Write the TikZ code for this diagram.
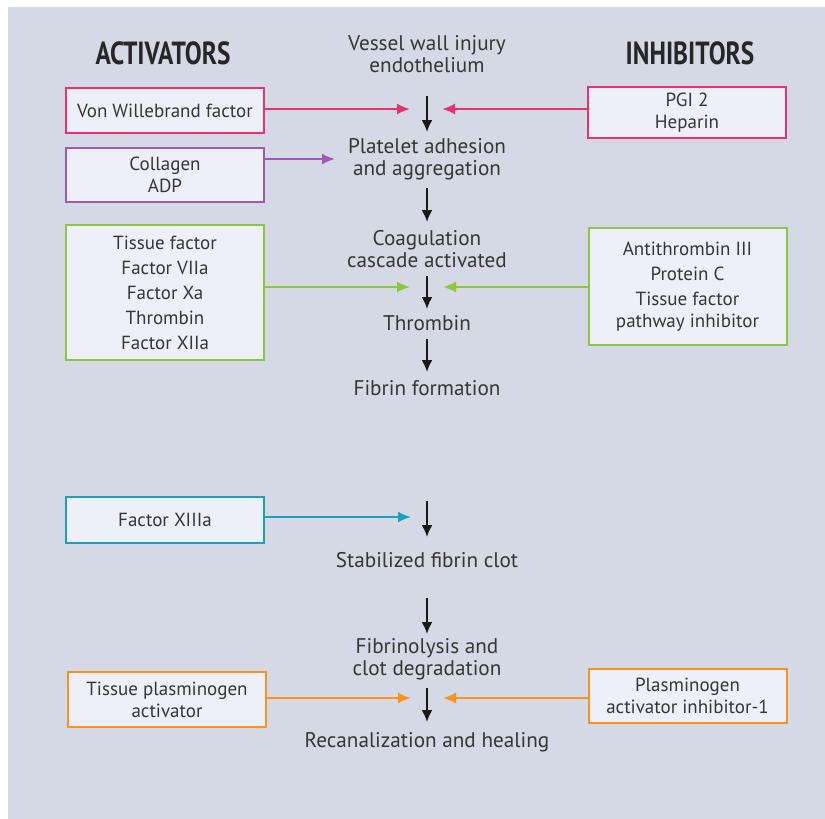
\documentclass[tikz,border=0pt]{standalone}
\usepackage{fontspec}
\setmainfont{PT Sans}
\usetikzlibrary{arrows.meta}

\definecolor{panel}{HTML}{D5D9E5}
\definecolor{boxfill}{HTML}{EDF0F9}
\definecolor{ink}{HTML}{363636}
\definecolor{vwfpink}{HTML}{E6336F}
\definecolor{collpurple}{HTML}{9E5BB0}
\definecolor{cascgreen}{HTML}{8DC63F}
\definecolor{xiiiteal}{HTML}{1EA0BD}
\definecolor{lysisorange}{HTML}{F7941D}

\tikzset{
    factor/.style={draw=#1, line width=1pt, fill=boxfill, rectangle, align=center,
        text=ink, font=\fontsize{9.5}{11}\selectfont, minimum width=99pt, inner sep=2pt},
    stage/.style={align=center, text=ink, font=\fontsize{10.6}{11}\selectfont, inner sep=0pt},
    heading/.style={text=black!85, font=\bfseries\fontsize{16}{18}\selectfont},
    feed/.style={draw=#1, line width=1pt, -{Latex[length=6.5pt, width=5.5pt]}},
    flow/.style={draw=black!90, line width=1pt, -{Latex[length=6pt, width=5.5pt]}}
}

\begin{document}
\begin{tikzpicture}[x=0.5pt, y=-0.5pt]
    \useasboundingbox (0,0) rectangle (825,819);
    \fill[white] (0,0) rectangle (825,819);
    \fill[panel] (8,7) rectangle (825,819);

    % column headings
    \node[heading] (act) at (163,53) {\scalebox{0.79}[1]{ACTIVATORS}};
    \node[heading] (inh) at (690,53) {\scalebox{0.79}[1]{INHIBITORS}};

    % main sequence down the middle
    \node[stage] (injury) at (427,54) {Vessel wall injury\\endothelium};
    \node[stage] (platelet) at (427,159) {Platelet adhesion\\and aggregation};
    \node[stage] (cascade) at (427,249) {Coagulation\\cascade activated};
    \node[stage] (thrombin) at (427,323) {Thrombin};
    \node[stage] (fibrin) at (427,388) {Fibrin formation};
    \node[stage] (stable) at (427,560) {Stabilized fibrin clot};
    \node[stage] (lysis) at (427,659.5) {Fibrinolysis and\\clot degradation};
    \node[stage] (heal) at (427,742) {Recanalization and healing};

    \draw[flow, shorten <=21pt, shorten >=13.5pt] (injury.center) -- (platelet.center);
    \draw[flow, shorten <=14.5pt, shorten >=13.5pt] (platelet.center) -- (cascade.center);
    \draw[flow, shorten <=13.5pt, shorten >=7pt] (cascade.center) -- (thrombin.center);
    \draw[flow, shorten <=8pt, shorten >=8pt] (thrombin.center) -- (fibrin.center);
    \draw[flow, shorten <=56.5pt, shorten >=11.5pt] (fibrin.center) -- (stable.center);
    \draw[flow, shorten <=19pt, shorten >=12.75pt] (stable.center) -- (lysis.center);
    \draw[flow, shorten <=14.25pt, shorten >=10pt] (lysis.center) -- (heal.center);

    % activators
    \node[factor=vwfpink, minimum height=22.5pt] (vwf) at (165,110.5) {Von Willebrand factor};
    \node[factor=collpurple, minimum height=27pt] (coll) at (165,175) {Collagen\\ADP};
    \node[factor=cascgreen, minimum height=67.5pt] (tf) at (165,292.5)
        {Tissue factor\\[1.5pt]Factor VIIa\\[1.5pt]Factor Xa\\[1.5pt]Thrombin\\[1.5pt]Factor XIIa};
    \node[factor=xiiiteal, minimum height=23pt] (f13) at (165,520) {Factor XIIIa};
    \node[factor=lysisorange, minimum height=27.5pt] (tpa) at (167,699.5) {Tissue plasminogen\\activator};

    % inhibitors
    \node[factor=vwfpink, minimum height=25.5pt] (pgi) at (687,112.5) {PGI 2\\Heparin};
    \node[factor=cascgreen, minimum height=58.5pt] (at3) at (687.5,286.5)
        {Antithrombin III\\[1.5pt]Protein C\\[1.5pt]Tissue factor\\pathway inhibitor};
    \node[factor=lysisorange, minimum height=27pt] (pai) at (687.5,696) {Plasminogen\\activator inhibitor-1};

    % where the side arrows stop
    \coordinate (vwfin) at (410,109);
    \coordinate (pgiin) at (442,109);
    \coordinate (collin) at (335,159);
    \coordinate (tfin) at (410,287);
    \coordinate (at3in) at (443,287);
    \coordinate (f13in) at (411,517);
    \coordinate (tpain) at (411,698);
    \coordinate (paiin) at (443,698);

    \draw[feed=vwfpink] (vwf.east |- vwfin) -- (vwfin);
    \draw[feed=vwfpink] (pgi.west |- pgiin) -- (pgiin);
    \draw[feed=collpurple] (coll.east |- collin) -- (collin);
    \draw[feed=cascgreen] (tf.east |- tfin) -- (tfin);
    \draw[feed=cascgreen] (at3.west |- at3in) -- (at3in);
    \draw[feed=xiiiteal] (f13.east |- f13in) -- (f13in);
    \draw[feed=lysisorange] (tpa.east |- tpain) -- (tpain);
    \draw[feed=lysisorange] (pai.west |- paiin) -- (paiin);
\end{tikzpicture}
\end{document}
